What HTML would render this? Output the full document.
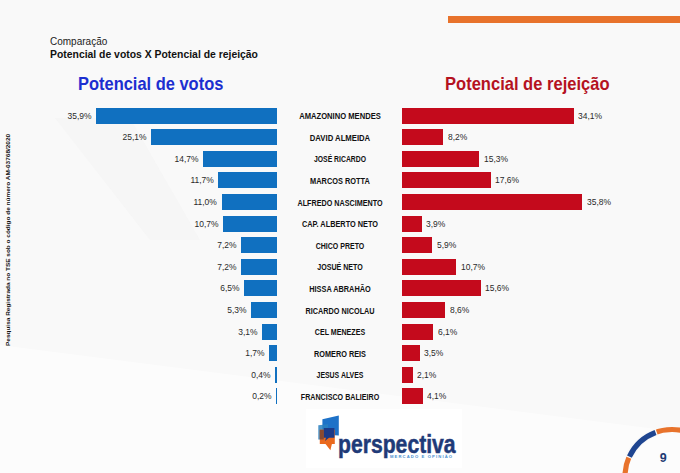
<!DOCTYPE html>
<html><head><meta charset="utf-8"><title>Potencial de votos X Potencial de rejeição</title>
<style>
html,body{margin:0;padding:0;}
body{width:680px;height:473px;position:relative;overflow:hidden;background:#f9f9f9;font-family:"Liberation Sans",sans-serif;}
div{position:absolute;white-space:nowrap;}
.bb{height:16px;background:#1070c0;}
.rb{height:16px;background:#c40a1c;}
.vl,.vr{font-size:9px;line-height:16px;height:16px;color:#2a2a2a;}
.vl{transform:scaleX(0.94);transform-origin:100% 50%;}
.vr{transform:scaleX(0.94);transform-origin:0 50%;}
.nm{left:239.8px;width:200px;text-align:center;font-size:8.5px;font-weight:bold;line-height:16px;height:16px;color:#111;transform-origin:50% 50%;}
.h1{left:50px;top:35px;font-size:10px;line-height:14px;color:#222;}
.h2{left:50px;top:47.4px;font-size:10.5px;line-height:14px;font-weight:bold;color:#111;transform-origin:0 50%;transform:scaleX(0.99);}
.tb{left:77.8px;top:71.5px;transform:scaleX(0.925);font-size:17.8px;line-height:24px;font-weight:bold;color:#1c2fd0;transform-origin:0 50%;}
.tr{left:444.8px;top:71.5px;transform:scaleX(0.93);font-size:17.8px;line-height:24px;font-weight:bold;color:#b5121f;transform-origin:0 50%;}
.obar{left:448px;top:16px;width:232px;height:7.1px;background:#e8732c;}
.vt{left:3.8px;top:346.1px;font-size:5.7px;line-height:8px;font-weight:bold;color:#111;transform:rotate(-90deg) scaleX(1.135);transform-origin:0 0;margin-top:0;}
.pg{left:653.2px;top:450.6px;width:20px;text-align:center;font-size:12.5px;line-height:14px;font-weight:bold;color:#1f3a73;}
.lg{left:338.2px;top:428.6px;font-size:25.2px;line-height:30px;font-weight:bold;color:#1f3a78;-webkit-text-stroke:0.5px #1f3a78;transform:scaleX(0.84);transform-origin:0 50%;letter-spacing:0;}
.sub{left:390px;top:454px;font-size:4.2px;line-height:6px;font-weight:bold;color:#4a8fd0;letter-spacing:1.1px;}
svg{position:absolute;left:0;top:0;}
</style></head><body>
<svg width="680" height="473" viewBox="0 0 680 473">
 <polygon points="0,345 680,432 680,473 0,473" fill="#ffffff" opacity="0.5"/>
 <polygon points="55,118 130,118 200,240 150,240" fill="#f3f3f3" opacity="0.6"/>
 <rect x="306" y="409" width="156" height="59" fill="#ffffff"/>
 <!-- ring -->
 <g fill="none">
  <circle cx="672" cy="476.5" r="47" stroke="#e8732c" stroke-width="5.2"/>
  <path d="M656.70,432.06 A47,47 0 0 0 628.90,457.76" stroke="#f9f9f9" stroke-width="8"/>
  <path d="M655.54,432.48 A47,47 0 0 0 629.40,456.64" stroke="#1f4590" stroke-width="5.2"/>
 </g>
 <!-- logo icon -->
 <polygon points="322.4,419.2 338.8,415.4 338.8,435.5 322.4,434.5" fill="#1e72c8"/>
 <polygon points="318.3,425.3 328,424.3 328,439.5 318.3,439.5" fill="#2a80c0" opacity="0.85"/>
 <polygon points="319.8,429.8 334.8,429.8 334.8,444 331.9,444 330.4,450.3 325.5,444 319.8,444" fill="#ea6a1e"/>
 <rect x="319.8" y="429.8" width="4" height="9.7" fill="#8a4a30"/>
 <polygon points="323.8,428 334.4,428 334.4,437.7 329,437.7 325,441 326,437.7 323.8,437.7" fill="#1c3a88"/>
</svg>
<div class="obar"></div>
<div class="h1">Comparação</div>
<div class="h2">Potencial de votos X Potencial de rejeição</div>
<div class="tb">Potencial de votos</div>
<div class="tr">Potencial de rejeição</div>
<div class="bb" style="left:96.44px;top:107.55px;width:180.76px"></div>
<div class="rb" style="left:402.20px;top:107.55px;width:171.69px"></div>
<div class="vl" style="right:588.06px;top:107.55px">35,9%</div>
<div class="vr" style="left:578.49px;top:107.55px">34,1%</div>
<div class="nm" style="top:108.15px;transform:scaleX(0.896)">AMAZONINO MENDES</div>
<div class="bb" style="left:150.82px;top:129.16px;width:126.38px"></div>
<div class="rb" style="left:402.20px;top:129.16px;width:41.29px"></div>
<div class="vl" style="right:533.68px;top:129.16px">25,1%</div>
<div class="vr" style="left:448.09px;top:129.16px">8,2%</div>
<div class="nm" style="top:129.76px;transform:scaleX(0.907)">DAVID ALMEIDA</div>
<div class="bb" style="left:203.19px;top:150.77px;width:74.01px"></div>
<div class="rb" style="left:402.20px;top:150.77px;width:77.04px"></div>
<div class="vl" style="right:481.31px;top:150.77px">14,7%</div>
<div class="vr" style="left:483.84px;top:150.77px">15,3%</div>
<div class="nm" style="top:151.37px;transform:scaleX(0.803)">JOSÉ RICARDO</div>
<div class="bb" style="left:218.29px;top:172.38px;width:58.91px"></div>
<div class="rb" style="left:402.20px;top:172.38px;width:88.62px"></div>
<div class="vl" style="right:466.21px;top:172.38px">11,7%</div>
<div class="vr" style="left:495.42px;top:172.38px">17,6%</div>
<div class="nm" style="top:172.98px;transform:scaleX(0.869)">MARCOS ROTTA</div>
<div class="bb" style="left:221.81px;top:193.99px;width:55.39px"></div>
<div class="rb" style="left:402.20px;top:193.99px;width:180.25px"></div>
<div class="vl" style="right:462.69px;top:193.99px">11,0%</div>
<div class="vr" style="left:587.05px;top:193.99px">35,8%</div>
<div class="nm" style="top:194.59px;transform:scaleX(0.847)">ALFREDO NASCIMENTO</div>
<div class="bb" style="left:223.33px;top:215.60px;width:53.87px"></div>
<div class="rb" style="left:402.20px;top:215.60px;width:19.64px"></div>
<div class="vl" style="right:461.17px;top:215.60px">10,7%</div>
<div class="vr" style="left:426.44px;top:215.60px">3,9%</div>
<div class="nm" style="top:216.20px;transform:scaleX(0.863)">CAP. ALBERTO NETO</div>
<div class="bb" style="left:240.95px;top:237.21px;width:36.25px"></div>
<div class="rb" style="left:402.20px;top:237.21px;width:29.71px"></div>
<div class="vl" style="right:443.55px;top:237.21px">7,2%</div>
<div class="vr" style="left:436.51px;top:237.21px">5,9%</div>
<div class="nm" style="top:237.81px;transform:scaleX(0.825)">CHICO PRETO</div>
<div class="bb" style="left:240.95px;top:258.82px;width:36.25px"></div>
<div class="rb" style="left:402.20px;top:258.82px;width:53.87px"></div>
<div class="vl" style="right:443.55px;top:258.82px">7,2%</div>
<div class="vr" style="left:460.67px;top:258.82px">10,7%</div>
<div class="nm" style="top:259.42px;transform:scaleX(0.835)">JOSUÉ NETO</div>
<div class="bb" style="left:244.47px;top:280.43px;width:32.73px"></div>
<div class="rb" style="left:402.20px;top:280.43px;width:78.55px"></div>
<div class="vl" style="right:440.03px;top:280.43px">6,5%</div>
<div class="vr" style="left:485.35px;top:280.43px">15,6%</div>
<div class="nm" style="top:281.03px;transform:scaleX(0.864)">HISSA ABRAHÃO</div>
<div class="bb" style="left:250.51px;top:302.04px;width:26.69px"></div>
<div class="rb" style="left:402.20px;top:302.04px;width:43.30px"></div>
<div class="vl" style="right:433.99px;top:302.04px">5,3%</div>
<div class="vr" style="left:450.10px;top:302.04px">8,6%</div>
<div class="nm" style="top:302.64px;transform:scaleX(0.857)">RICARDO NICOLAU</div>
<div class="bb" style="left:261.59px;top:323.65px;width:15.61px"></div>
<div class="rb" style="left:402.20px;top:323.65px;width:30.71px"></div>
<div class="vl" style="right:422.91px;top:323.65px">3,1%</div>
<div class="vr" style="left:437.51px;top:323.65px">6,1%</div>
<div class="nm" style="top:324.25px;transform:scaleX(0.834)">CEL MENEZES</div>
<div class="bb" style="left:268.64px;top:345.26px;width:8.56px"></div>
<div class="rb" style="left:402.20px;top:345.26px;width:17.62px"></div>
<div class="vl" style="right:415.86px;top:345.26px">1,7%</div>
<div class="vr" style="left:424.42px;top:345.26px">3,5%</div>
<div class="nm" style="top:345.86px;transform:scaleX(0.860)">ROMERO REIS</div>
<div class="bb" style="left:275.19px;top:366.87px;width:2.01px"></div>
<div class="rb" style="left:402.20px;top:366.87px;width:10.57px"></div>
<div class="vl" style="right:409.31px;top:366.87px">0,4%</div>
<div class="vr" style="left:417.37px;top:366.87px">2,1%</div>
<div class="nm" style="top:367.47px;transform:scaleX(0.814)">JESUS ALVES</div>
<div class="bb" style="left:276.19px;top:388.48px;width:1.01px"></div>
<div class="rb" style="left:402.20px;top:388.48px;width:20.64px"></div>
<div class="vl" style="right:408.31px;top:388.48px">0,2%</div>
<div class="vr" style="left:427.44px;top:388.48px">4,1%</div>
<div class="nm" style="top:389.08px;transform:scaleX(0.839)">FRANCISCO BALIEIRO</div>
<div class="vt">Pesquisa Registrada no TSE sob o código de número AM-03768/2020</div>
<div class="lg">perspectiva</div>
<div class="sub">MERCADO E OPINIÃO</div>
<div class="pg">9</div>
</body></html>
